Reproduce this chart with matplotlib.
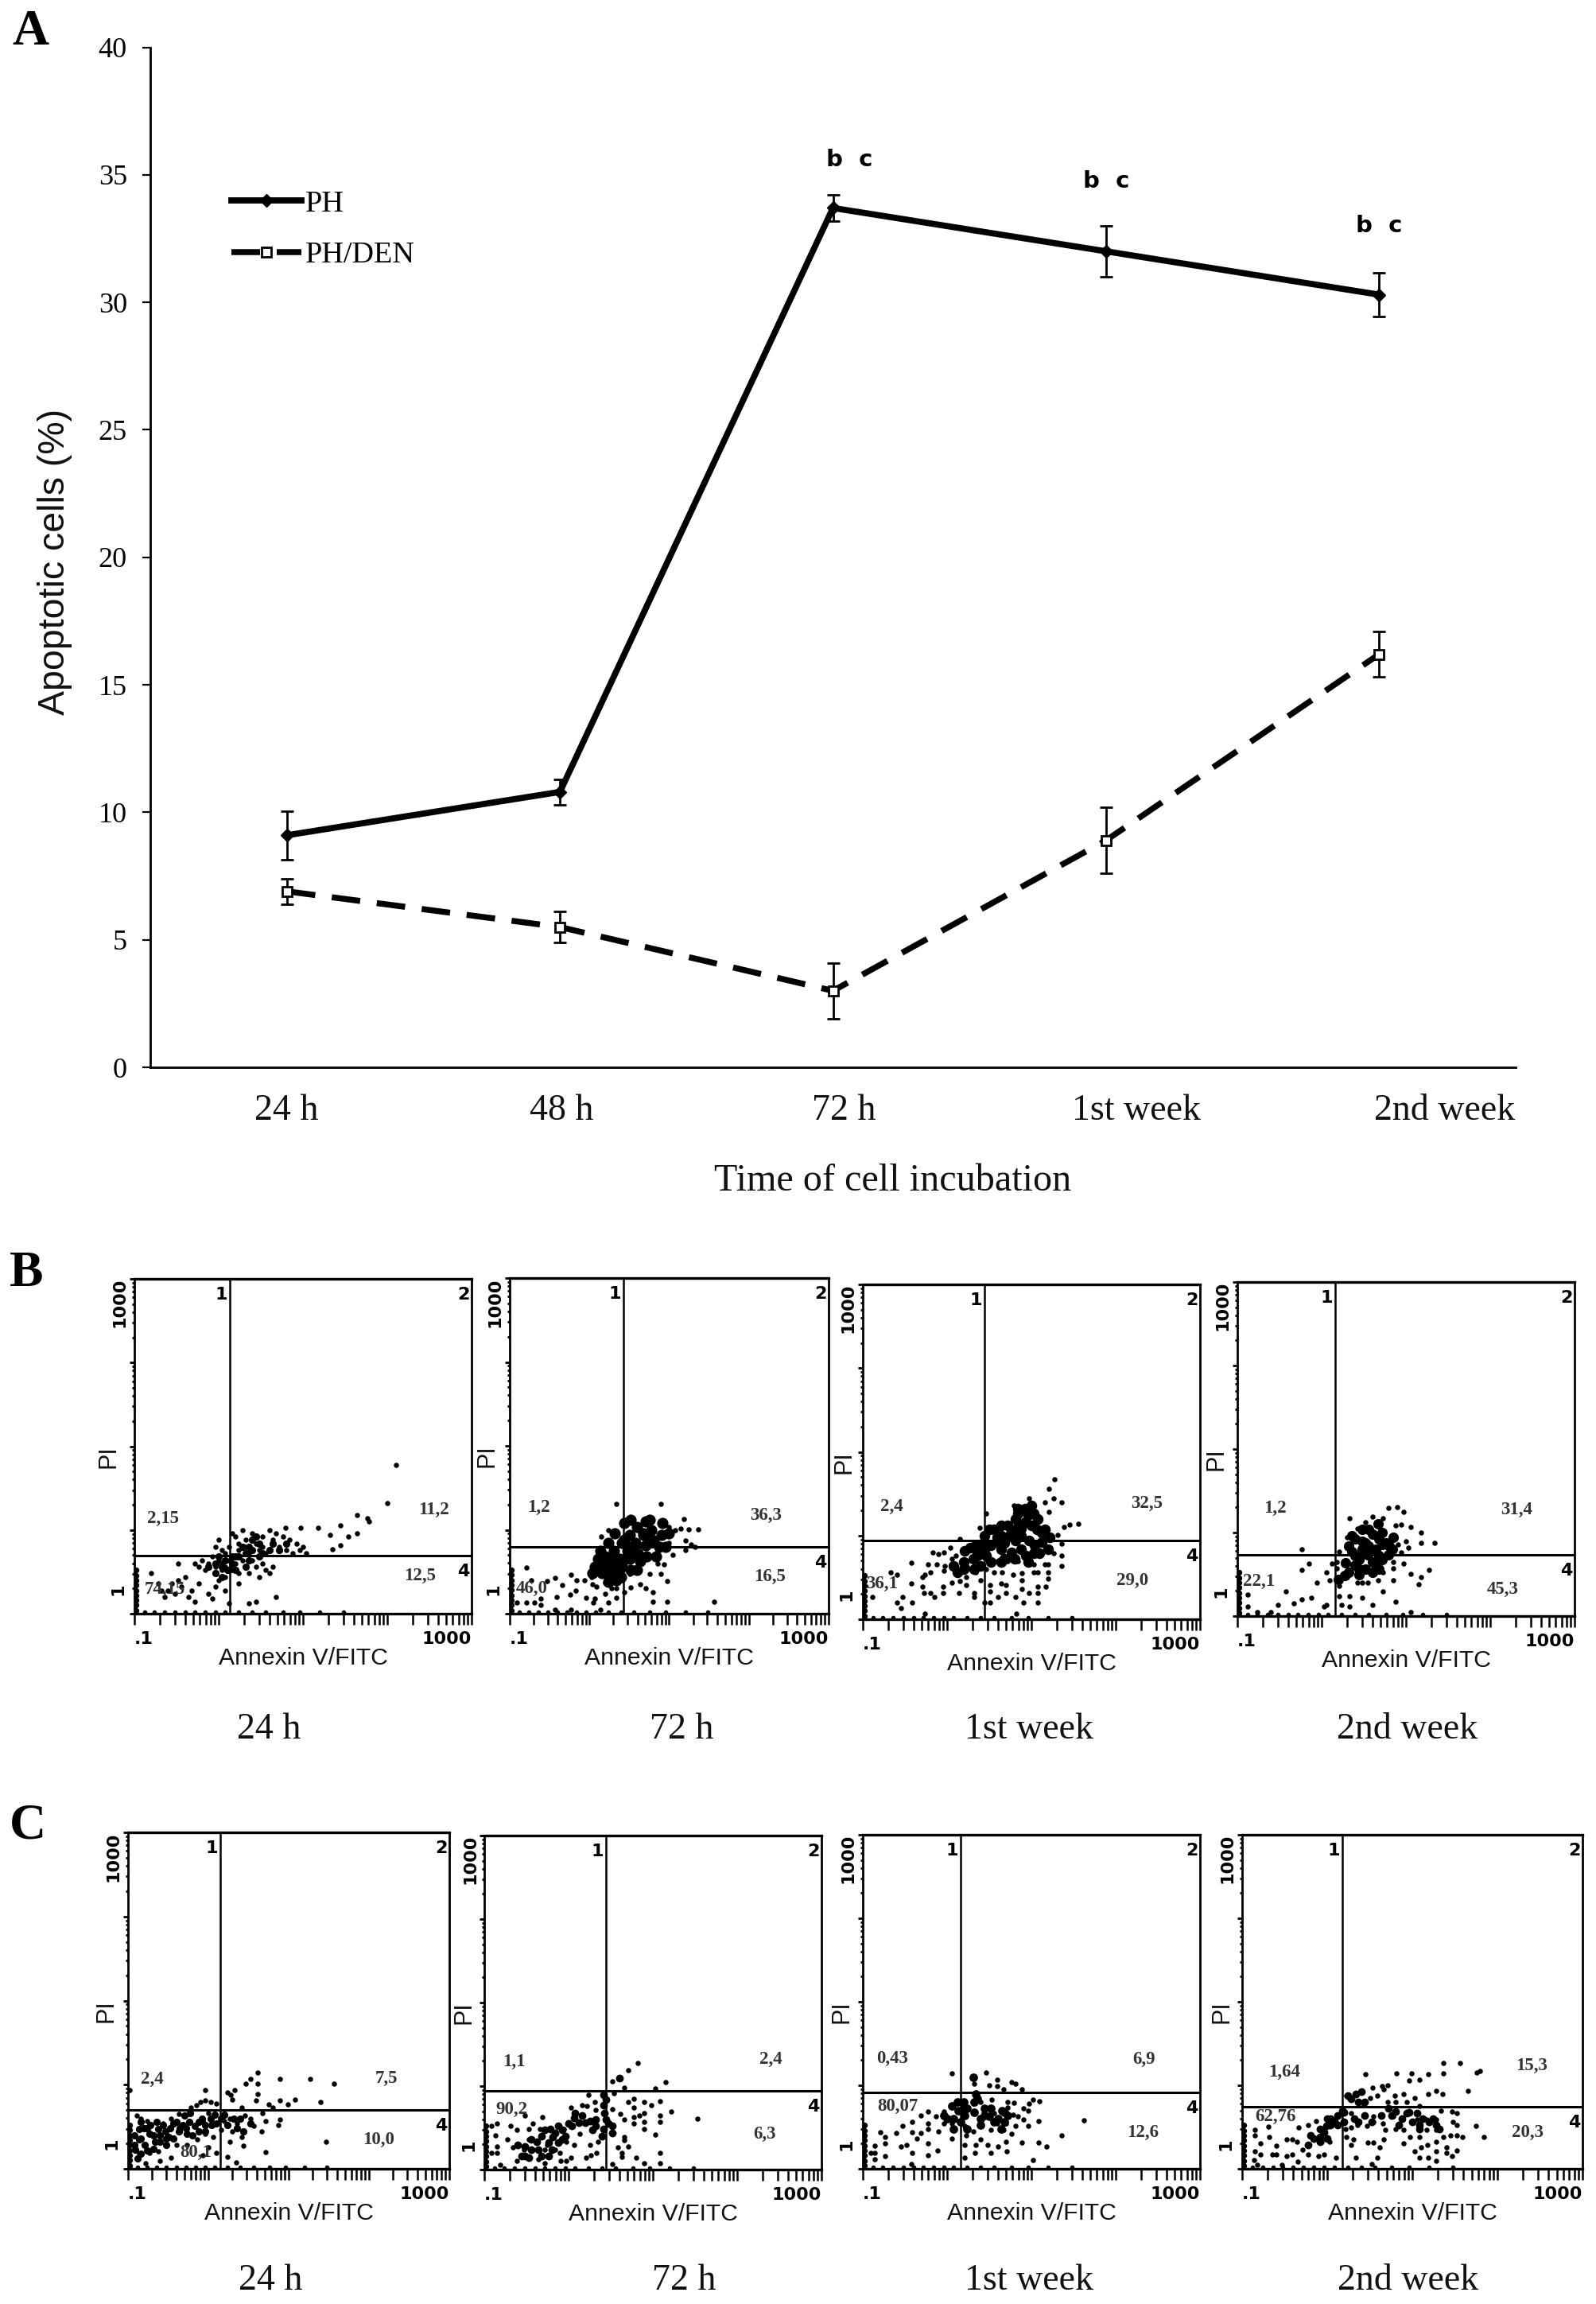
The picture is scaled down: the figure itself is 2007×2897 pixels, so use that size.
import numpy as np
import matplotlib
matplotlib.use('Agg')
import matplotlib.pyplot as plt

W, H = 2008, 2897
SERIF = 'Liberation Serif'
SANS = 'Liberation Sans'

# panel A
times = ['24 h', '48 h', '72 h', '1st week', '2nd week']
time_label_pos = [0, 1.005, 2.04, 3.11, 4.24]
ph = [9.1, 10.8, 33.7, 32.0, 30.3]
ph_err = [0.95, 0.5, 0.5, 1.0, 0.85]
den = [6.9, 5.5, 3.0, 8.9, 16.2]
den_err = [0.5, 0.6, 1.1, 1.3, 0.9]
sig_labels = ['b  c', 'b  c', 'b  c']
sig_x = [2.06, 3.0, 4.0]
sig_y = [35.6, 34.75, 33.0]

# flow panels: events in channels, 0-100 along the 4 decade log scale
b1_dots = [(24,20),(25,22),(26,19),(27,18),(28,20),(29,24),(30,23),(31,21),(31,19),(32,25),(33,22),(33,20),(34,18),(35,24),
           (36,21),(37,19),(38,23),(38,20),(39,18),(40,25),(41,22),(42,24),(43,20),(44,23),(45,19),(46,22),(47,18),(48,21),
           (49,19),(50,20),(51,18),(18,15),(19,14),(20,16),(21,13),(22,15),(23,17),(24,14),(25,16),(26,13),(26,15),(27,11),
           (27,14),(28,16),(29,13),(30,15),(31,12),(32,16),(33,14),(34,12),(35,16),(36,14),(37,11),(38,15),(39,13),(40,12),
           (41,14),(13,15),(5,12),(7,9),(8,7),(9,5),(10,7),(11,9),(12,6),(13,10),(14,8),(15,11),(16,5),(17,7),(18,3.5),(19,9),
           (22,6),(23,4.5),(24,8),(25,10),(27,7),(28,3),(31,9),(34,3),(36,3.5),(42,5),(77.7,44.4),(75,33),(66,29.5),(69,28.5),
           (69.5,27.5),(66,24),(63.5,23),(61,26.4),(61,20.5),(58.7,19.2),(58,23.4),(54.4,25.6),(49.4,25.6),(44.8,25.6)]
b1_core = [(26,14),(27.5,13),(29,15),(25,17),(35,19),(37,17),(31,17),(33,14),(28,13),(27,16),(30,17),(32,20),(35,22),(38,18),
           (34,16),(37,21),(40,19),(43,19),(22,14),(24,15),(26,11),(29,17),(33,18),(36,23),(41,21),(45,21),(30,13),(34,20),(24,12)]
b2_dots = [(33.5,32.8),(47.5,32.8),(30.8,25),(28.7,23),(54.5,28.2),(56,25.2),(59,25.2),(53.5,25.4),(51.8,25),(50,25.8),(55,21.9),
           (56.8,20.7),(58,20),(55,19),(50,21),(51,17.5),(48.5,14.8),(46.4,15),(44,11.8),(47.5,11.8),(49.5,9.6),(41,8.8),(42.7,7.7),
           (38,7.8),(45,6.5),(45,3.6),(49.5,3.6),(64,3.6),(36,6.5),(37.7,11.8),(33.3,4.7),(30.8,3.3),(30,6),(26.8,4.5),(26.2,3.3),
           (24,4.7),(26,8.8),(27.3,8),(25.6,10.8),(23.5,10),(21,10),(19.3,11.6),(20.6,6.9),(19,5.7),(16.4,8.5),(14.3,10.7),(14.8,4.9),
           (11.8,9.6),(6.8,10),(5.2,13.8),(9.8,4.5),(9.8,2.5),(7.7,3.3),(5.2,3.3),(2.3,3.3),(19.3,1.3),(14.3,1.3),(28.5,1.3),(30,9.2),
           (31.8,7.7),(33.5,7.7),(35,10)]
b2_core = [(27.7,16.4),(30,17),(32.7,18.7),(35.2,21),(37.7,23.5),(40,25.8),(42.7,27.4),(29.3,14),(31.8,14.8),(34.3,16.4),(36.8,18.7),
           (39.3,21),(41.8,23.5),(44.3,25),(32.7,11.6),(35.2,14),(37.7,16.4),(40.2,18),(42.7,20.3),(45.2,21.9),(31,12.5),(33.5,10),
           (26.8,14),(28.5,18.7),(41,15.6),(46,17),(47.7,23.5),(34,12.5),(36,22),(38,20),(30,15),(33,16),(36,16),(39,18),(42,24),
           (29,12),(31,9.5),(35,11),(38,13),(40,13),(43,17),(44,22),(47,20),(36,27),(38,28),(33,24),(31,21),(28,16),(26,12),(44,28),
           (48,27),(50,24),(49,20)]
b3_dots = [(55.3,39),(56.9,41.9),(56.7,36),(58.9,34.8),(63.8,28.4),(61.4,28.3),(59.6,27.6),(57.9,25.2),(49.2,36),(44.9,34),(54,34.8),
           (55.1,32),(36.5,31.6),(34.6,27.2),(28.7,24),(59,22.5),(56.7,19.7),(58.9,18.9),(58.9,15.9),(55,20.5),(55,16.5),(50.8,14),
           (54.9,14),(54.9,12),(54.3,9.8),(52,14),(47.2,13.7),(47.2,11.7),(47.2,9),(52,9.8),(52,7.8),(49.2,7.8),(47.6,5),(52,5),(45.3,6.6),
           (45.6,1.6),(42.5,10.2),(41,10.6),(42.5,7.8),(40.1,6.6),(37.8,10.2),(37.8,8.2),(37.8,5),(36.2,5),(44.5,13.3),(41.3,14),(39,14),
           (36.6,15),(39.8,17.3),(43,17.3),(46,17.3),(50.8,16.5),(54,16.5),(35,11.7),(33.5,14),(30.7,10.2),(30.7,12.5),(31,15.7),(28.7,14),
           (28.7,11.3),(26.4,11),(24,14.5),(24.4,16),(26.4,18),(27.6,19),(26,21.3),(24,20),(22.3,19.4),(20.7,20),(22,16.3),(19.3,16.3),
           (20,14),(18.5,13.3),(17.7,12.5),(14.3,16.9),(14.3,10.8),(17.6,9.8),(18.1,7.8),(20,7.8),(21.3,6.6),(23.9,9.8),(23.9,7.8),(28.6,7.8),
           (33,7.8),(33,6.6),(11.8,6.6),(10.2,5),(11.4,3.4),(14.6,5),(2.8,6.6),(8.3,14),(10.2,13.3),(18.5,1.6)]
b3_core = [(31.9,21.3),(33.9,18.9),(33.5,22),(35.8,22.9),(36.6,18.9),(39,26.8),(39.8,24.4),(42,22.9),(45.3,30),(46,27.6),(43.7,25.2),(50,34),
           (50.8,31.6),(51.6,26.8),(49.2,23.6),(54,26.8),(55.5,24.4),(48.4,18.9),(52.4,19.7),(45.3,23.6),(30.3,20.5),(37.4,26.8),(46,31.6),
           (50.8,19.7),(32.7,18),(34,20),(37,22),(41,28),(44,20),(47,25),(50,28),(53,23),(49,17),(38,17),(42,18),(36,25),(43,28),(48,33),(52,30),
           (30,17),(27,16),(28,14),(33,15),(41,21),(44,26),(40,23),(47,21),(45,18),(41,17),(38,22),(35,20),(48,29),(47,27),(53,26),(51,22),(55,21),
           (46,33),(36,21),(30,15),(35,16),(49,31),(41,25)]
b4_dots = [(44.7,32.3),(47.4,32.6),(49.2,31.3),(33.3,29.4),(43.2,29.2),(48.5,27.5),(51.5,26.7),(54.5,25),(58.6,22),(54.5,22),(50,22.5),(50.8,20.5),
           (48.5,19),(19,20),(21.2,15.8),(19,13.7),(26.5,13.2),(28,15.8),(29.5,16.3),(27.3,10.6),(23.5,10),(30.3,9),(33.3,6),(37,5.5),(43.2,7.5),
           (46.2,10.6),(38.6,10),(41.7,10.6),(35.6,10),(47,4.4),(40,3.4),(31,3.4),(30.3,6),(33.3,2.9),(51.5,1.3),(53.8,9.6),(56.8,13.7),(54.5,11.7),
           (51.5,12.7),(46.2,14.3),(49.2,15.8),(22,5.5),(25.8,2.9),(26.5,3.4),(19,5),(16.7,3.9),(14.4,7.5),(12.1,3.4),(9.8,1.3),(3,6.5),(3,2.9),(6,1.3),
           (30.3,19.4),(32.6,23.6),(35.6,26.1),(37.9,28.2),(40,29.8),(47,27.2),(47.7,21.5),(46.2,16.3),(29.5,14.3),(32.6,11.7),(37,10),(43.2,13.2)]
b4_core = [(34,19.4),(37,22.5),(40,24.6),(43,21.5),(38.6,18.4),(34.8,15.3),(40,16.3),(44.7,18.4),(31.8,12.2),(36,12.5),(41.7,27.7),(46.2,23.5),
           (36,17),(38,14),(41,20),(35,23),(39,26),(43,25),(45,21),(32,16),(33,21),(42,14),(37,20),(42,18),(38,22),(35,18),(41,16),(44,22),(43,17),
           (39,21),(40,13),(33,13),(46,20),(37,26),(42,23),(30,11),(34,24),(36,14)]
c1_dots = [(24.1,23.5),(22.5,19.8),(24.1,20.4),(25.8,19.9),(27.4,19.4),(21.2,19),(19.6,18.2),(0.6,23.3),(32,22),(33.2,23.3),(32.4,20.6),(31,22.8),
           (40.4,28.6),(38.2,26.7),(36.7,25.3),(40.4,25.4),(40.4,22.3),(39.8,20.4),(47.4,26.7),(56.8,26.7),(64,25.4),(47.4,20.4),(52,20.6),(49.8,19.1),
           (59.8,19.9),(43.8,19.1),(45,18.2),(35.3,18.2),(36.5,15.8),(38.2,15),(41.9,16.6),(39,12.7),(41.7,11.1),(42.7,14.3),(46.7,13),(47.4,14.6),
           (31.6,15),(34,13.5),(29.9,14.3),(32.4,11.1),(35.3,9.5),(31.6,8),(36,6.8),(42.9,5),(61.6,8.1),(30.9,3.6),(33.6,1.8),(25,6.4),(27.4,4.8),
           (23.3,4),(13.4,3.2),(10,2.4),(5.5,1.7),(3.5,4.4),(6.8,4.8),(9.3,5.2),(15,7.2),(18.3,7.2),(21.6,8.7),(24.1,10.3),(26.6,9.5),(3.9,15),(2.6,15.8),
           (5.9,14.3),(10.9,13.5),(13.4,15),(15.9,16.2),(23.3,14.3),(25,16.6),(29,11.5)]
c1_core = [(3.5,8.7),(3.5,11.9),(6.8,10.3),(9.3,11.9),(11.7,11.1),(14.2,13.5),(15.9,11.1),(18.3,10.3),(19.2,16.6),(20.8,12.7),(25.8,15),(27.4,13.5),
           (2.2,5.6),(5.1,7.2),(8.4,8),(12.6,9.5),(17.5,15.8),(2,10),(5,12),(7,13),(8,6),(10,10),(13,12),(15,14),(17,13),(19,14),(22,14),(24,13),(12,7),
           (4,4.5),(6,5.5),(10,8),(23,15),(26,13),(29,15),(31,13),(35,15),(38,13.5),(4,9),(6,12),(8,10),(9,14),(11,13),(12,9),(14,9),(16,12),(18,12),(20,10),
           (22,11),(24,11),(27,16),(2,7),(3,3),(4,14),(30,16),(33,15),(34,12),(36,11)]
c2_dots = [(45.5,31.9),(42.8,29.8),(53.8,26.1),(50.6,24.3),(41.6,24.5),(38,26.5),(38.4,22.9),(44.3,21.3),(47.5,20.3),(52.2,20.4),(49.5,19.2),(55.4,17.4),
           (63.2,15.2),(52.2,16.2),(52.2,14.2),(50.6,10.5),(38,18.2),(40.4,16.6),(41.6,15),(44.3,18.6),(44.3,15.8),(44.3,13.8),(47.5,17),(47.5,14.2),
           (47.5,12.1),(42.8,20.2),(45.9,16.2),(41.6,9.8),(41.6,8.7),(39.6,6.7),(42.8,6.8),(40.8,5),(40.8,3.9),(45.1,3.5),(47.5,1.9),(52.2,4.9),(52.2,1.9),
           (38,1.7),(33.3,5),(31.7,4.3),(30.3,3.5),(33.7,8.3),(31.3,7.5),(31,22.5),(32.9,20.2),(30.5,19),(25.8,18.6),(29,19.4),(33,17.8),(28.2,10.6),
           (26.6,7.5),(24.3,8.3),(25.8,3.5),(22.7,2.7),(22.3,5),(24.3,2.7),(17.2,15.8),(14.4,13.8),(12,16.2),(9.7,11.8),(7.7,13),(3.8,13.7),(2.2,13),
           (3.4,10.2),(6.9,9),(3.8,7),(3.8,5),(2.2,5),(8.5,6.7),(9.7,2.7),(13.2,12.2),(16.4,12.2),(18,5.9),(16,3.1),(18.7,7.5),(18,1.9),(4.6,1.5),(13.2,9),
           (11.7,5.9),(21,5.9),(23.5,12.2)]
c2_core = [(19.5,12.2),(21.9,13),(25,13.8),(26.6,15.4),(29,16.2),(31.3,14.6),(35.3,22.5),(35.3,19.4),(36.9,13.8),(35.3,12.2),(13.2,3.5),(15.6,8.3),
           (20.3,9.8),(10,7.5),(40,27.3),(23,12),(17,10),(14,6),(12,4),(17,4),(20,6),(22,8),(28,14),(33,15),(35.5,17),(36,15),(38,13),(33,13),(19,8),
           (21,11),(24,10),(26,13),(30,14),(32,12),(35,10),(38,11),(16,6),(12,7),(14,9),(18,12),(23,9),(19,4),(36,21),(27,17),(11,4)]
c3_dots = [(26.4,28.5),(36.5,28.7),(33,25.5),(39.8,26.7),(37.4,25),(39.8,24.7),(41.7,23.9),(44.1,25.9),(45.2,25.5),(47.2,23.7),(50.4,20.7),(52.4,20.3),(49.2,19.5),
           (47.6,18.2),(44.9,19.8),(42.9,19.9),(38.2,20.7),(35,19.9),(32.7,19.5),(44.5,16.3),(46,15.6),(47.6,14.8),(49,17.5),(49,12.9),(45.3,12.8),(42.9,18.3),
           (42.5,13.6),(41.7,11.6),(44,10.4),(38,11.6),(35.8,16.7),(34.6,13.6),(32.7,11.2),(30.7,10),(30.3,12.8),(39.8,13.6),(39,16.7),(52.1,14.2),(65.5,14.5),
           (59,10),(47.2,7.9),(52.1,7.9),(54.5,6.7),(42.5,8),(42.6,5.2),(40.2,6.7),(38,4.8),(37,7.2),(35,8.8),(33.5,7.2),(33.2,4.8),(50.4,2.6),(30.3,7.2),(30.3,3.4),
           (26.4,9),(19.3,7.6),(22.2,5.5),(19.3,4),(14.6,4.7),(14.3,1.5),(13,7.2),(11.4,6.6),(16.1,9),(17.3,10.8),(14.6,11),(14.6,14),(11.8,12.8),(17.1,16),(19.3,17.1),
           (19.3,13.6),(19.3,12),(21.7,15.6),(24,17.1),(24,13.6),(26.4,13.6),(22.4,11.2),(9.8,10.6),(6.7,9.6),(6.7,7.6),(5.3,11),(3.5,6.8),(3.5,4.8),(3.5,2.9),(6.7,3.9),(2.4,4.7)]
c3_core = [(28.3,17.5),(26.4,18.7),(30.3,16),(33.5,22.3),(32.7,27.5),(37.4,15.6),(41.3,17.5),(29,14),(31,18),(27,15),(25,15),(33,20),(35,15),(39,14),(42,14),
           (31,12),(36,18),(42,17),(30,18),(28,20),(24,16),(27,12),(33,17),(34,21),(36,16),(38,18),(40,15),(43,16),(30,20),(41,12),(35,13)]
c4_dots = [(36.2,28.3),(45.3,28.5),(49.8,28.5),(54.7,28.3),(59.2,31.7),(64.1,31.7),(59.2,28.5),(69,28.8),(69.8,29.3),(49,26.4),(52.2,26.7),(38.3,24.3),(41.1,24.7),
           (42.8,25),(41.6,23.9),(54.7,22.3),(56.9,23.3),(58.8,22.3),(66.4,23.3),(50.6,21.1),(47.5,22.3),(44.8,21.9),(39.7,21.9),(37.7,21.1),(30.7,21.9),(35.8,19.1),
           (42.8,19.9),(45.2,19.9),(48.3,19.9),(52.2,18.7),(58.4,17.5),(61.6,17.1),(63.1,16.7),(56.9,14.8),(54.1,14.8),(51.4,14.8),(47.1,14.8),(44.4,15.6),(38.5,15.6),
           (38.5,14),(31.9,16.7),(33.8,13.2),(36.6,12.8),(31.9,12.4),(30.3,12),(41.3,13.6),(42,11.6),(45.2,12),(47.5,11.6),(49.4,9.6),(47.5,7.6),(52.2,9.6),(54.1,11.6),
           (56.9,11.6),(63.1,13.2),(68.6,12.8),(61.9,14),(61.2,10),(63.1,10),(64.7,9.6),(71.1,9.6),(59.2,9.6),(56.9,8),(54.5,7.2),(52.6,6.4),(50.6,5.2),(56.9,5.2),(60,6.4),
           (63.1,5.5),(52.2,3.3),(54.7,3.3),(56.9,2.5),(60,4.8),(61.6,3.7),(41.5,8.7),(40.5,6.4),(37,7.9),(38.5,7.9),(39.7,3.3),(38.1,1.5),(33.4,3.4),(31.9,7.2),(32.7,8.8),
           (30.7,9.6),(27.6,3.3),(24,4.4),(22.5,3.7),(19.4,4.2),(16.4,2.1),(14.7,4.4),(13.1,3.7),(10,4.4),(8.8,4.4),(10,7),(8,9.6),(5.3,7.6),(3.8,11.6),(3.8,10),(7.8,12.6),
           (13.1,8.8),(14.7,8.8),(16.6,12.4),(16.2,8),(17.8,5.6),(19.4,13.2),(21.7,14.4),(23.3,8),(25.6,8),(3.8,5.2),(5.3,4.4),(3.4,2.6),(4.5,1.3),(11.6,1.3)]
c4_core = [(27.2,14.4),(24.8,12.8),(22.8,9.6),(29.5,17.5),(33.4,22.3),(48.3,16.7),(45.2,17.1),(51.4,16.7),(19.4,7.2),(26,15),(23,12),(20,10),(28,16),(30,14),
           (25,9),(34,20),(47,15),(50,14),(53,15),(55,14),(44,16),(38,14),(33,15),(31,22),(35,23),(57,13),(21,9),(24,11),(26,13),(28,13),(25,15),(30,17),(36,20),
           (41,16),(43,18),(46,13),(52,13),(49,17),(52,12),(56,15),(58,12),(36,16),(34,14),(23,8),(32,21)]

# events piled up on the axes
offscale_y = [1, 2.5, 4, 5.5, 7, 8.5, 10, 11.5, 13]
offscale_x = [3, 6, 9, 12, 15, 18, 21, 24, 27, 31, 35, 39, 44, 49, 55, 62]

all_dots = [b1_dots, b2_dots, b3_dots, b4_dots, c1_dots, c2_dots, c3_dots, c4_dots]
all_core = [b1_core, b2_core, b3_core, b4_core, c1_core, c2_core, c3_core, c4_core]
gate_x = [28.4, 35.7, 36.1, 29.1, 28.7, 36.1, 29.0, 29.4]
gate_y = [17.3, 19.9, 23.5, 18.3, 17.5, 23.6, 22.9, 18.6]
quad_text = [['2,15', '11,2', '12,5', '74,15'], ['1,2', '36,3', '16,5', '46,0'],
             ['2,4', '32,5', '29,0', '36,1'], ['1,2', '31,4', '45,3', '22,1'],
             ['2,4', '7,5', '10,0', '80,1'], ['1,1', '2,4', '6,3', '90,2'],
             ['0,43', '6,9', '12,6', '80,07'], ['1,64', '15,3', '20,3', '62,76']]

# layout, pixels: left, top, right, bottom
boxes = [(169, 1608, 593, 2029), (641, 1607, 1042, 2029), (1085, 1615, 1509, 2036), (1556, 1612, 1980, 2032),
         (161, 2304, 565, 2727), (609, 2308, 1033, 2728), (1085, 2307, 1509, 2727), (1562, 2307, 1990, 2727)]
quad_pos = [[(.085, .285), (.889, .311), (.848, .112), (.091, .072)], [(.092, .316), (.804, .293), (.815, .11), (.069, .074)],
            [(.086, .336), (.842, .346), (.80, .116), (.056, .106)], [(.111, .323), (.829, .318), (.788, .079), (.065, .104)],
            [(.075, .266), (.804, .269), (.781, .086), (.21, .048)], [(.087, .322), (.85, .329), (.831, .105), (.081, .181)],
            [(.088, .331), (.833, .328), (.83, .108), (.103, .186)], [(.125, .29), (.85, .309), (.838, .108), (.098, .155)]]
pi_offset = [32, 28, 23, 26, 27, 26, 26, 25]
core_size = [44, 105, 95, 90, 44, 50, 60, 50]
row_label_x = [[338, 857, 1294, 1770], [340, 860, 1294, 1771]]
row_label_y = [2175, 2868]
row_times = ['24 h', '72 h', '1st week', '2nd week']


def ch2val(ch):
    # channel to value on the 0.1-1000 scale
    return 10 ** (np.asarray(ch, dtype=float) / 25.0 - 1)


def ftext(px, py, s, **kw):
    return fig.text(px / W, 1 - py / H, s, ha=kw.pop('ha', 'center'), va=kw.pop('va', 'center'), **kw)


fig = plt.figure(figsize=(W / 100, H / 100), dpi=100)

# ---- A ----
ax = fig.add_axes([189 / W, 1 - 1342 / H, (1906 - 189) / W, (1342 - 59.5) / H])
xs = np.arange(len(times))
ax.errorbar(xs, ph, yerr=ph_err, fmt='none', ecolor='black', elinewidth=2, capsize=6, capthick=2)
ax.errorbar(xs, den, yerr=den_err, fmt='none', ecolor='black', elinewidth=2, capsize=6, capthick=2)
ax.plot(xs, ph, color='black', lw=5.6, marker='D', ms=8, label='PH')
ax.plot(xs, den, color='black', lw=5.4, dashes=(4.8, 2.8), dash_capstyle='butt', marker='s', ms=8,
        mfc='white', mec='black', mew=2, label='PH/DEN')
ax.set_xlim(-0.5, 4.5)
ax.set_ylim(0, 40)
ax.set_yticks(range(0, 45, 5))
ax.set_xticks(time_label_pos, times, fontfamily=SERIF, fontsize=33)
ax.tick_params(axis='x', length=0, pad=24, colors='#111111')
ax.tick_params(axis='y', length=7, width=1.6, pad=14, labelsize=26, labelfontfamily=SERIF)
for s in ['top', 'right']:
    ax.spines[s].set_visible(False)
for s in ['left', 'bottom']:
    ax.spines[s].set_linewidth(2)
ax.set_ylabel('Apoptotic cells (%)', fontfamily=SANS, fontsize=33.5, color='#111111')
ax.yaxis.set_label_coords((91 - 189) / (1906 - 189), (1342 - 706) / (1342 - 59.5))
ax.set_xlabel('Time of cell incubation', fontfamily=SERIF, fontsize=34.7, color='#111111')
ax.xaxis.set_label_coords((1123 - 189) / (1906 - 189), -(1463 - 1342) / (1342 - 59.5))
leg = ax.legend(loc='upper left', bbox_to_anchor=(0.0594, 0.860), frameon=False, borderpad=0, borderaxespad=0,
                handlelength=2.3, handletextpad=0.13, labelspacing=0.77,
                prop={'family': SERIF, 'size': 27.5})
for xp, yp, s in zip(sig_x, sig_y, sig_labels):
    ax.text(xp, yp, s, ha='center', va='center', fontsize=21, fontfamily='DejaVu Sans', fontweight='bold')

# ---- B, C ----
for i, (l, t, r, b) in enumerate(boxes):
    a = fig.add_axes([l / W, 1 - b / H, (r - l) / W, (b - t) / H])
    a.set_xscale('log')
    a.set_yscale('log')
    a.set_xlim(0.1, 1000)
    a.set_ylim(0.1, 1000)
    dots = np.array(all_dots[i])
    core = np.array(all_core[i])
    a.scatter(ch2val(dots[:, 0]), ch2val(dots[:, 1]), s=22, color='black', linewidths=0)
    a.scatter(ch2val(core[:, 0]), ch2val(core[:, 1]), s=core_size[i], color='black', linewidths=0)
    a.scatter(ch2val(np.full(len(offscale_y), 0.5)), ch2val(offscale_y), s=28, color='black', linewidths=0)
    a.scatter(ch2val(offscale_x), ch2val(np.full(len(offscale_x), 0.5)), s=16, color='black', linewidths=0)
    a.axvline(ch2val(gate_x[i]), color='black', lw=1.8)
    a.axhline(ch2val(gate_y[i]), color='black', lw=2.2)
    for sp in a.spines.values():
        sp.set_linewidth(2.0)
    a.spines['top'].set_linewidth(2.4)
    a.spines['bottom'].set_linewidth(2.4)
    a.set_xticks([0.1, 1, 10, 100, 1000], ['.1', '', '', '', '1000'], fontfamily='DejaVu Sans', fontweight='bold', fontsize=16)
    a.set_yticks([0.1, 1, 10, 100, 1000], ['', '', '', '', ''])
    a.xaxis.set_minor_locator(matplotlib.ticker.LogLocator(base=10, subs=np.arange(2, 10), numticks=10))
    a.yaxis.set_minor_locator(matplotlib.ticker.LogLocator(base=10, subs=np.arange(2, 10), numticks=10))
    a.xaxis.set_minor_formatter(matplotlib.ticker.NullFormatter())
    a.yaxis.set_minor_formatter(matplotlib.ticker.NullFormatter())
    a.tick_params(axis='x', which='both', length=10, width=1.8, pad=6)
    a.tick_params(axis='y', which='major', length=4, width=2)
    a.tick_params(axis='y', which='minor', length=2.5, width=2)
    xt = a.get_xticklabels()
    xt[0].set_ha('left')
    xt[-1].set_ha('right')
    w, h = r - l, b - t
    # y axis labels sit away from the true decades in the original
    a.text(-18 / w, 0.928, '1000', transform=a.transAxes, rotation=90, ha='center', va='center',
           fontfamily='DejaVu Sans', fontweight='bold', fontsize=16)
    a.text(-20 / w, 0.074, '1', transform=a.transAxes, rotation=90, ha='center', va='center',
           fontfamily='DejaVu Sans', fontweight='bold', fontsize=16)
    a.text(0.5, -56 / h, 'Annexin V/FITC', transform=a.transAxes, ha='center', va='center', fontfamily=SANS, fontsize=21.7, color='#111111')
    a.text(-pi_offset[i] / w, 0.47, 'PI', transform=a.transAxes, rotation=90, ha='center', va='center', fontfamily=SANS, fontsize=22, color='#111111')
    vx = l + w * gate_x[i] / 100
    hy = b - h * gate_y[i] / 100
    ftext(vx - 11, t + 20, '1', fontfamily='DejaVu Sans', fontweight='bold', fontsize=16)
    ftext(r - 10, t + 20, '2', fontfamily='DejaVu Sans', fontweight='bold', fontsize=16)
    ftext(r - 10, hy + 20, '4', fontfamily='DejaVu Sans', fontweight='bold', fontsize=16)
    for s, (fx, fy) in zip(quad_text[i], quad_pos[i]):
        a.text(fx, fy, s, transform=a.transAxes, ha='center', va='center', fontfamily=SERIF, fontweight='bold',
               fontsize=16.5, color='#333333')

for xs_row, y_row in zip(row_label_x, row_label_y):
    for xp, s in zip(xs_row, row_times):
        ftext(xp, y_row, s, fontfamily=SERIF, fontsize=33, color='#111111')

ftext(38, 41, 'A', fontfamily=SERIF, fontweight='bold', fontsize=46)
ftext(33, 1602, 'B', fontfamily=SERIF, fontweight='bold', fontsize=46)
ftext(35, 2297, 'C', fontfamily=SERIF, fontweight='bold', fontsize=46)

fig.savefig('out.png', dpi=100)
